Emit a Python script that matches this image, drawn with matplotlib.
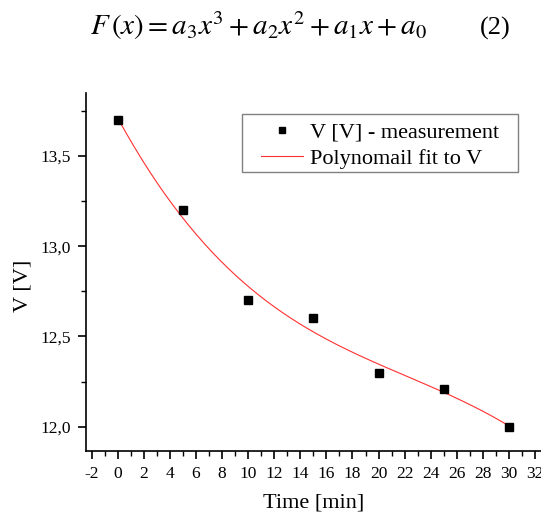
import numpy as np
import matplotlib
matplotlib.use('Agg')
import matplotlib.pyplot as plt
import matplotlib.ticker as ticker
from matplotlib.patches import Rectangle

# measured battery voltage over time
time_min = [0, 5, 10, 15, 20, 25, 30]
voltage = [13.70, 13.20, 12.70, 12.60, 12.30, 12.21, 12.00]

plt.rcParams['font.family'] = ['Liberation Serif', 'DejaVu Serif']
plt.rcParams['mathtext.fontset'] = 'stix'

fig = plt.figure(figsize=(5.41, 5.15), dpi=100)
W, H = 541, 515
ax = fig.add_axes([86 / W, 1 - 451 / H, (W - 86) / W, (451 - 93) / H])

# cubic fit F(x) = a3 x^3 + a2 x^2 + a1 x + a0
coef = np.polyfit(time_min, voltage, 3)
xf = np.linspace(0, 30, 200)
ax.plot(xf, np.polyval(coef, xf), color='#ff3030', lw=0.8, label='Polynomail fit to V', zorder=2)
ax.plot(time_min, voltage, 's', color='black', ms=5.5, label='V [V] - measurement', zorder=3)

ax.set_xlim(-2.44, 32.46)
ax.set_ylim(11.865, 13.85)
ax.xaxis.set_major_locator(ticker.MultipleLocator(2))
ax.xaxis.set_minor_locator(ticker.MultipleLocator(1))
ax.yaxis.set_major_locator(ticker.MultipleLocator(0.5))
ax.yaxis.set_minor_locator(ticker.MultipleLocator(0.25))
ax.yaxis.set_major_formatter(ticker.FuncFormatter(lambda v, p: f'{v:.1f}'.replace('.', ',')))
ax.xaxis.set_major_formatter(ticker.FuncFormatter(lambda v, p: f'{v:.0f}'))

for s in ['top', 'right']:
    ax.spines[s].set_visible(False)
for s in ['left', 'bottom']:
    ax.spines[s].set_linewidth(1.2)
ax.tick_params(which='major', direction='out', length=6, width=1.2, labelsize=12.5, pad=5)
ax.tick_params(which='minor', direction='out', length=3.5, width=1.0)

ax.set_xlabel('Time [min]', fontsize=16, labelpad=8)
ax.set_ylabel('V [V]', fontsize=16)
ax.yaxis.set_label_coords((32 - 86) / 455, (451 - 286) / 358)

# legend box drawn separately so the handle inset matches
ax.add_patch(Rectangle((242 / W, 1 - 172 / H), 276 / W, 58 / H, transform=fig.transFigure,
                       facecolor='white', edgecolor='#808080', lw=1.0, zorder=4, clip_on=False))
handles, labels = ax.get_legend_handles_labels()
leg = ax.legend(handles[::-1], labels[::-1], loc='upper left', bbox_to_anchor=(261 / W, 1 - 122 / H),
                bbox_transform=fig.transFigure, fontsize=16, frameon=False,
                handlelength=1.9, handletextpad=0.3, borderpad=0, borderaxespad=0,
                labelspacing=0.25, markerscale=0.85)
leg.set_zorder(5)

fig.text(90 / W, 1 - 35 / H, r'$F\,(x) = a_3x^3 + a_2x^2 + a_1x + a_0$', fontsize=21, va='baseline', ha='left')
fig.text(480 / W, 1 - 35 / H, '(2)', fontsize=19, va='baseline', ha='left')

fig.savefig('out.png', dpi=100)
